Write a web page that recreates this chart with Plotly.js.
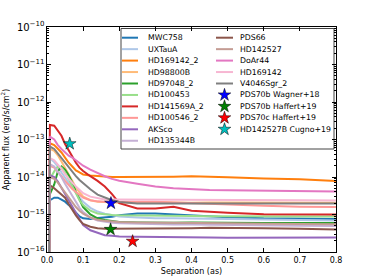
<!DOCTYPE html>
<html><head><meta charset="utf-8">
<script src="https://cdn.plot.ly/plotly-3.0.1.min.js"></script>
<style>html,body{margin:0;padding:0;background:#fff}#chart{width:374px;height:280px}</style>
</head><body><div id="chart"></div>
<script>
// Separation (arcsec)
const sep = [0.005, 0.008, 0.02, 0.03, 0.04, 0.05, 0.06, 0.07, 0.08, 0.09, 0.10, 0.12, 0.14, 0.16, 0.18, 0.20, 0.25, 0.30, 0.35, 0.40, 0.45, 0.50, 0.60, 0.70, 0.80];

const MWC758 = [1e-17, 2.4e-15, 2.8e-15, 2.8e-15, 2.5e-15, 2.2e-15, 1.8e-15, 1.41e-15, 1.1e-15, 8.9e-16, 7.9e-16, 7.6e-16, 8.1e-16, 8.3e-16, 8.7e-16, 9.5e-16, 1.07e-15, 1.07e-15, 1.0e-15, 9.3e-16, 8.7e-16, 8.5e-16, 7.9e-16, 7.8e-16, 7.6e-16];
const UXTauA = [1e-17, 3.2e-14, 2.5e-14, 1.9e-14, 1.32e-14, 9.5e-15, 7.1e-15, 5.2e-15, 3.8e-15, 2.8e-15, 2.2e-15, 1.51e-15, 1.2e-15, 1.05e-15, 9.5e-16, 8.9e-16, 8.3e-16, 7.9e-16, 7.9e-16, 7.8e-16, 7.7e-16, 7.6e-16, 7.4e-16, 7.1e-16, 6.9e-16];
const HD169142_2 = [1e-17, 7.9e-14, 7.1e-14, 5.6e-14, 4.5e-14, 3.3e-14, 2.4e-14, 1.9e-14, 1.5e-14, 1.32e-14, 1.17e-14, 1.1e-14, 1.05e-14, 1.02e-14, 1.0e-14, 1.0e-14, 1.0e-14, 1.0e-14, 1.02e-14, 1.05e-14, 1.0e-14, 9.8e-15, 9.1e-15, 8.7e-15, 7.8e-15];
const HD98800B = [1e-17, 5.6e-14, 5.0e-14, 3.8e-14, 2.6e-14, 1.78e-14, 1.2e-14, 7.9e-15, 5.2e-15, 3.8e-15, 3.0e-15, 2.4e-15, 2.2e-15, 2.15e-15, 2.1e-15, 2.05e-15, 2.1e-15, 2.15e-15, 2.1e-15, 2.05e-15, 2.1e-15, 2.1e-15, 2.05e-15, 2.1e-15, 2.05e-15];
const HD97048_2 = [1e-17, 3.5e-15, 6.3e-15, 1.41e-14, 1.9e-14, 1.58e-14, 1.12e-14, 7.1e-15, 4.0e-15, 2.4e-15, 1.58e-15, 1.0e-15, 7.9e-16, 7.1e-16, 6.6e-16, 6.3e-16, 6.1e-16, 6.0e-16, 6.0e-16, 6.1e-16, 6.0e-16, 6.0e-16, 5.9e-16, 5.9e-16, 5.9e-16];
const HD100453 = [1e-17, 8.9e-15, 1.41e-14, 1.9e-14, 1.78e-14, 1.32e-14, 8.9e-15, 5.6e-15, 3.5e-15, 2.4e-15, 1.78e-15, 1.26e-15, 1.07e-15, 1.0e-15, 9.7e-16, 9.5e-16, 9.3e-16, 9.2e-16, 9.1e-16, 9.1e-16, 9.0e-16, 9.0e-16, 8.9e-16, 8.9e-16, 8.9e-16];
const HD141569A_2 = [1e-17, 2.45e-13, 2.34e-13, 1.78e-13, 1.26e-13, 7.6e-14, 5.2e-14, 3.3e-14, 2.4e-14, 1.78e-14, 1.45e-14, 1.05e-14, 7.9e-15, 5.6e-15, 3.5e-15, 2.0e-15, 1.45e-15, 1.45e-15, 1.6e-15, 1.26e-15, 1.17e-15, 1.12e-15, 1.02e-15, 1.02e-15, 1.0e-15];
const HD100546_2 = [1e-17, 2.0e-14, 1.78e-14, 1.41e-14, 1.05e-14, 7.9e-15, 6.0e-15, 4.8e-15, 4.0e-15, 3.3e-15, 2.8e-15, 2.4e-15, 2.24e-15, 2.2e-15, 2.2e-15, 2.2e-15, 2.2e-15, 2.2e-15, 2.1e-15, 2.0e-15, 1.95e-15, 1.9e-15, 1.7e-15, 1.62e-15, 1.58e-15];
const AKSco = [1e-17, 1.12e-14, 1.0e-14, 7.6e-15, 5.2e-15, 3.5e-15, 2.4e-15, 1.66e-15, 1.12e-15, 7.1e-16, 5.2e-16, 3.8e-16, 3.2e-16, 2.8e-16, 2.7e-16, 2.6e-16, 2.55e-16, 2.55e-16, 2.5e-16, 2.5e-16, 2.45e-16, 2.4e-16, 2.4e-16, 2.45e-16, 2.45e-16];
const HD135344B = [1e-17, 2.2e-14, 1.9e-14, 1.41e-14, 1.0e-14, 6.6e-15, 4.5e-15, 3.0e-15, 2.1e-15, 1.51e-15, 1.17e-15, 8.3e-16, 6.9e-16, 6.3e-16, 6.0e-16, 5.8e-16, 5.6e-16, 5.5e-16, 5.4e-16, 5.4e-16, 5.3e-16, 5.2e-16, 5.1e-16, 5.0e-16, 4.9e-16];
const PDS66 = [1e-17, 6.0e-15, 5.0e-15, 4.2e-15, 3.5e-15, 2.8e-15, 1.9e-15, 1.32e-15, 9.5e-16, 7.1e-16, 5.6e-16, 4.7e-16, 4.3e-16, 4.2e-16, 4.2e-16, 4.2e-16, 4.2e-16, 4.3e-16, 4.3e-16, 4.3e-16, 4.4e-16, 4.4e-16, 4.3e-16, 4.2e-16, 4.0e-16];
const HD142527 = [1e-17, 1.0e-14, 8.9e-15, 7.1e-15, 5.2e-15, 3.8e-15, 2.8e-15, 2.1e-15, 1.58e-15, 1.26e-15, 1.05e-15, 8.3e-16, 7.2e-16, 6.8e-16, 6.5e-16, 6.3e-16, 6.1e-16, 6.0e-16, 6.0e-16, 6.0e-16, 5.9e-16, 5.8e-16, 5.7e-16, 5.6e-16, 5.5e-16];
const DoAr44 = [1e-17, 1.2e-13, 1.0e-13, 7.1e-14, 5.6e-14, 4.5e-14, 3.7e-14, 3.3e-14, 2.8e-14, 2.4e-14, 2.0e-14, 1.58e-14, 1.26e-14, 1.05e-14, 8.9e-15, 7.9e-15, 6.6e-15, 5.6e-15, 5.0e-15, 4.7e-15, 4.5e-15, 4.4e-15, 4.3e-15, 4.2e-15, 4.1e-15];
const HD169142 = [1e-17, 3.2e-14, 2.8e-14, 2.2e-14, 1.66e-14, 1.2e-14, 8.9e-15, 7.1e-15, 5.6e-15, 4.5e-15, 3.7e-15, 3.0e-15, 2.7e-15, 2.5e-15, 2.5e-15, 2.5e-15, 2.5e-15, 2.5e-15, 2.45e-15, 2.45e-15, 2.4e-15, 2.4e-15, 2.4e-15, 2.4e-15, 2.35e-15];
const V4046Sgr_2 = [1e-17, 6.5e-14, 5.6e-14, 4.2e-14, 3.2e-14, 2.4e-14, 1.78e-14, 1.35e-14, 1.05e-14, 8.3e-15, 6.8e-15, 4.7e-15, 3.4e-15, 2.8e-15, 2.4e-15, 2.15e-15, 1.95e-15, 1.95e-15, 1.95e-15, 1.95e-15, 1.95e-15, 1.95e-15, 1.95e-15, 1.95e-15, 1.95e-15];

const seriesNames = ['MWC758','UXTauA','HD169142_2','HD98800B','HD97048_2','HD100453','HD141569A_2','HD100546_2','AKSco','HD135344B','PDS66','HD142527','DoAr44','HD169142','V4046Sgr_2'];
const seriesData = [MWC758, UXTauA, HD169142_2, HD98800B, HD97048_2, HD100453, HD141569A_2, HD100546_2, AKSco, HD135344B, PDS66, HD142527, DoAr44, HD169142, V4046Sgr_2];
const seriesColors = ['#1f77b4','#aec7e8','#ff7f0e','#ffbb78','#2ca02c','#98df8a','#d62728','#ff9896','#9467bd','#c5b0d5','#8c564b','#c49c94','#e377c2','#f7b6d2','#7f7f7f'];

// Planet / companion detections
const starNames = ['PDS70b Wagner+18','PDS70b Haffert+19','PDS70c Haffert+19','HD142527B Cugno+19'];
const starSep = [0.177, 0.176, 0.237, 0.063];
const starFlux = [2.0e-15, 4.0e-16, 1.93e-16, 7.7e-14];
const starColors = ['#0000ff','#008000','#ff0000','#00bfbf'];

const xTickVals = [0, 0.1, 0.2, 0.3, 0.4, 0.5, 0.6, 0.7, 0.8];

const FONT = 'DejaVu Sans, sans-serif';
const traces = [];
seriesNames.forEach((n, i) => {
  traces.push({type:'scatter', mode:'lines', name:n, x:sep, y:seriesData[i],
    line:{color:seriesColors[i], width:2}, showlegend:false, hoverinfo:'skip'});
});
starNames.forEach((n, i) => {
  traces.push({type:'scatter', mode:'markers', name:n, x:[starSep[i]], y:[starFlux[i]],
    marker:{symbol:'star', size:9.5, color:starColors[i], line:{color:'#000', width:0.5}},
    showlegend:false, hoverinfo:'skip'});
});

// Hand-built two-column legend on a pixel-scaled overlay axis
const annotations = [];
const legendItems = seriesNames.map((n,i)=>({name:n, kind:'line', color:seriesColors[i]}))
  .concat(starNames.map((n,i)=>({name:n, kind:'star', color:starColors[i]})));
const rowY0 = 37.7, rowH = 11.45;
const colLine = [[122, 138], [216, 233]];
const colText = [145.5, 238];
legendItems.forEach((it, k) => {
  const col = k < 10 ? 0 : 1;
  const row = k < 10 ? k : k - 10;
  const yy = rowY0 + rowH * row;
  if (it.kind === 'line') {
    traces.push({type:'scatter', mode:'lines', xaxis:'x2', yaxis:'y2', x:colLine[col], y:[yy, yy],
      line:{color:it.color, width:2}, showlegend:false, hoverinfo:'skip'});
  } else {
    traces.push({type:'scatter', mode:'markers', xaxis:'x2', yaxis:'y2', x:[(colLine[col][0]+colLine[col][1])/2], y:[yy],
      marker:{symbol:'star', size:9.5, color:it.color, line:{color:'#000', width:0.5}}, showlegend:false, hoverinfo:'skip'});
  }
  annotations.push({xref:'x2', yref:'y2', x:colText[col], y:yy, text:it.name, showarrow:false,
    xanchor:'left', yanchor:'middle', font:{family:FONT, size:7.8, color:'#000'}});
});

const layout = {
  width:374, height:280,
  margin:{l:47, r:38, t:27, b:28},
  paper_bgcolor:'#fff', plot_bgcolor:'#fff',
  font:{family:FONT, size:8, color:'#000'},
  showlegend:false,
  xaxis:{range:[0,0.8], tickvals:xTickVals, ticktext:xTickVals.map(v=>v.toFixed(1)),
    ticks:'inside', ticklen:4, tickcolor:'#000', showline:true, linecolor:'#000', linewidth:1,
    mirror:'allticks', showgrid:false, zeroline:false,
    title:{text:'Separation (as)', font:{family:FONT, size:8}, standoff:4},
    tickfont:{family:FONT, size:8}},
  yaxis:{type:'log', range:[-16,-10], dtick:1, exponentformat:'power',
    ticks:'inside', ticklen:4, tickcolor:'#000', showline:true, linecolor:'#000', linewidth:1,
    mirror:'allticks', showgrid:false, zeroline:false,
    minor:{ticks:'inside', ticklen:2, tickcolor:'#000', dtick:'D1', showgrid:false},
    title:{text:'Apparent flux (erg/s/cm<sup>2</sup>)', font:{family:FONT, size:8}, standoff:6},
    tickfont:{family:FONT, size:8}},
  xaxis2:{overlaying:'x', range:[47,336], visible:false, fixedrange:true},
  yaxis2:{overlaying:'y', range:[252,27], visible:false, fixedrange:true},
  shapes:[{type:'rect', xref:'x2', yref:'y2', x0:121, x1:334, y0:28.5, y1:149,
    line:{color:'#444', width:1}, fillcolor:'#fff', layer:'below'}],
  annotations:annotations
};

Plotly.newPlot('chart', traces, layout, {staticPlot:true, displayModeBar:false});
</script>
</body></html>
